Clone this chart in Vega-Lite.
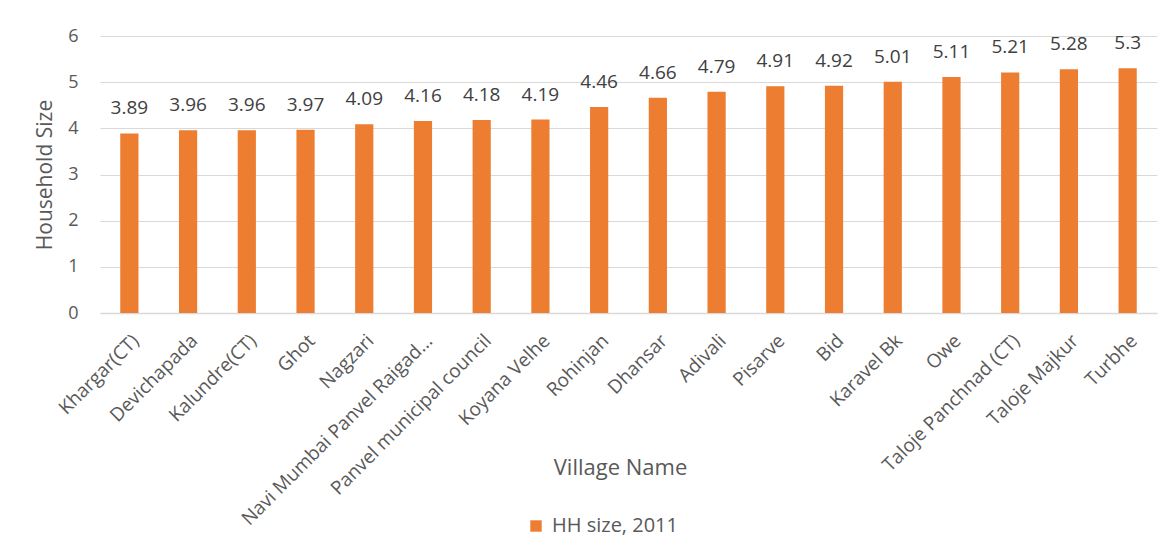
{
  "$schema": "https://vega.github.io/schema/vega-lite/v6.json",
  "width": 1057,
  "height": 277,
  "autosize": {"type": "none"},
  "padding": {"left": 100, "top": 36, "right": 18, "bottom": 245},
  "background": "white",
  "config": {
    "font": "Open Sans",
    "view": {"stroke": null},
    "axis": {"labelColor": "#595959", "titleColor": "#595959", "titleFontWeight": "normal"}
  },
  "data": {
    "values": [
      {"village": "Khargar(CT)", "size": 3.89, "series": "HH size, 2011"},
      {"village": "Devichapada", "size": 3.96, "series": "HH size, 2011"},
      {"village": "Kalundre(CT)", "size": 3.96, "series": "HH size, 2011"},
      {"village": "Ghot", "size": 3.97, "series": "HH size, 2011"},
      {"village": "Nagzari", "size": 4.09, "series": "HH size, 2011"},
      {"village": "Navi Mumbai Panvel Raigad...", "size": 4.16, "series": "HH size, 2011"},
      {"village": "Panvel municipal council", "size": 4.18, "series": "HH size, 2011"},
      {"village": "Koyana Velhe", "size": 4.19, "series": "HH size, 2011"},
      {"village": "Rohinjan", "size": 4.46, "series": "HH size, 2011"},
      {"village": "Dhansar", "size": 4.66, "series": "HH size, 2011"},
      {"village": "Adivali", "size": 4.79, "series": "HH size, 2011"},
      {"village": "Pisarve", "size": 4.91, "series": "HH size, 2011"},
      {"village": "Bid", "size": 4.92, "series": "HH size, 2011"},
      {"village": "Karavel Bk", "size": 5.01, "series": "HH size, 2011"},
      {"village": "Owe", "size": 5.11, "series": "HH size, 2011"},
      {"village": "Taloje Panchnad (CT)", "size": 5.21, "series": "HH size, 2011"},
      {"village": "Taloje Majkur", "size": 5.28, "series": "HH size, 2011"},
      {"village": "Turbhe", "size": 5.3, "series": "HH size, 2011"}
    ]
  },
  "encoding": {
    "x": {
      "field": "village",
      "type": "nominal",
      "sort": null,
      "scale": {"paddingInner": 0.69, "paddingOuter": 0.345},
      "axis": {
        "title": "Village Name",
        "titleFontSize": 22,
        "titleX": 520,
        "titleY": 154,
        "titleAlign": "center",
        "titleBaseline": "middle",
        "labelAngle": -45,
        "labelFontSize": 19,
        "labelPadding": 18,
        "ticks": false,
        "domainColor": "#d9d9d9",
        "domainWidth": 1.5,
        "labelLimit": 0
      }
    },
    "y": {
      "field": "size",
      "type": "quantitative",
      "scale": {"domain": [0, 6]},
      "axis": {
        "title": "Household Size",
        "titleFontSize": 21,
        "titlePadding": 12,
        "labelFontSize": 18,
        "labelPadding": 22,
        "values": [0, 1, 2, 3, 4, 5, 6],
        "labelOverlap": false,
        "ticks": false,
        "domain": false,
        "gridColor": "#d9d9d9",
        "gridWidth": 1.2
      }
    }
  },
  "layer": [
    {
      "mark": {"type": "bar"},
      "encoding": {
        "color": {
          "field": "series",
          "type": "nominal",
          "scale": {"range": ["#ED7D31"]},
          "legend": {
            "title": null,
            "orient": "none",
            "legendX": 426,
            "legendY": 480,
            "symbolType": "square",
            "symbolSize": 130,
            "labelFontSize": 20,
            "labelColor": "#595959",
            "labelOffset": 6
          }
        }
      }
    },
    {
      "mark": {"type": "text", "baseline": "bottom", "dy": -15, "fontSize": 19, "color": "#404040"},
      "encoding": {"text": {"field": "size", "type": "quantitative"}}
    }
  ]
}
